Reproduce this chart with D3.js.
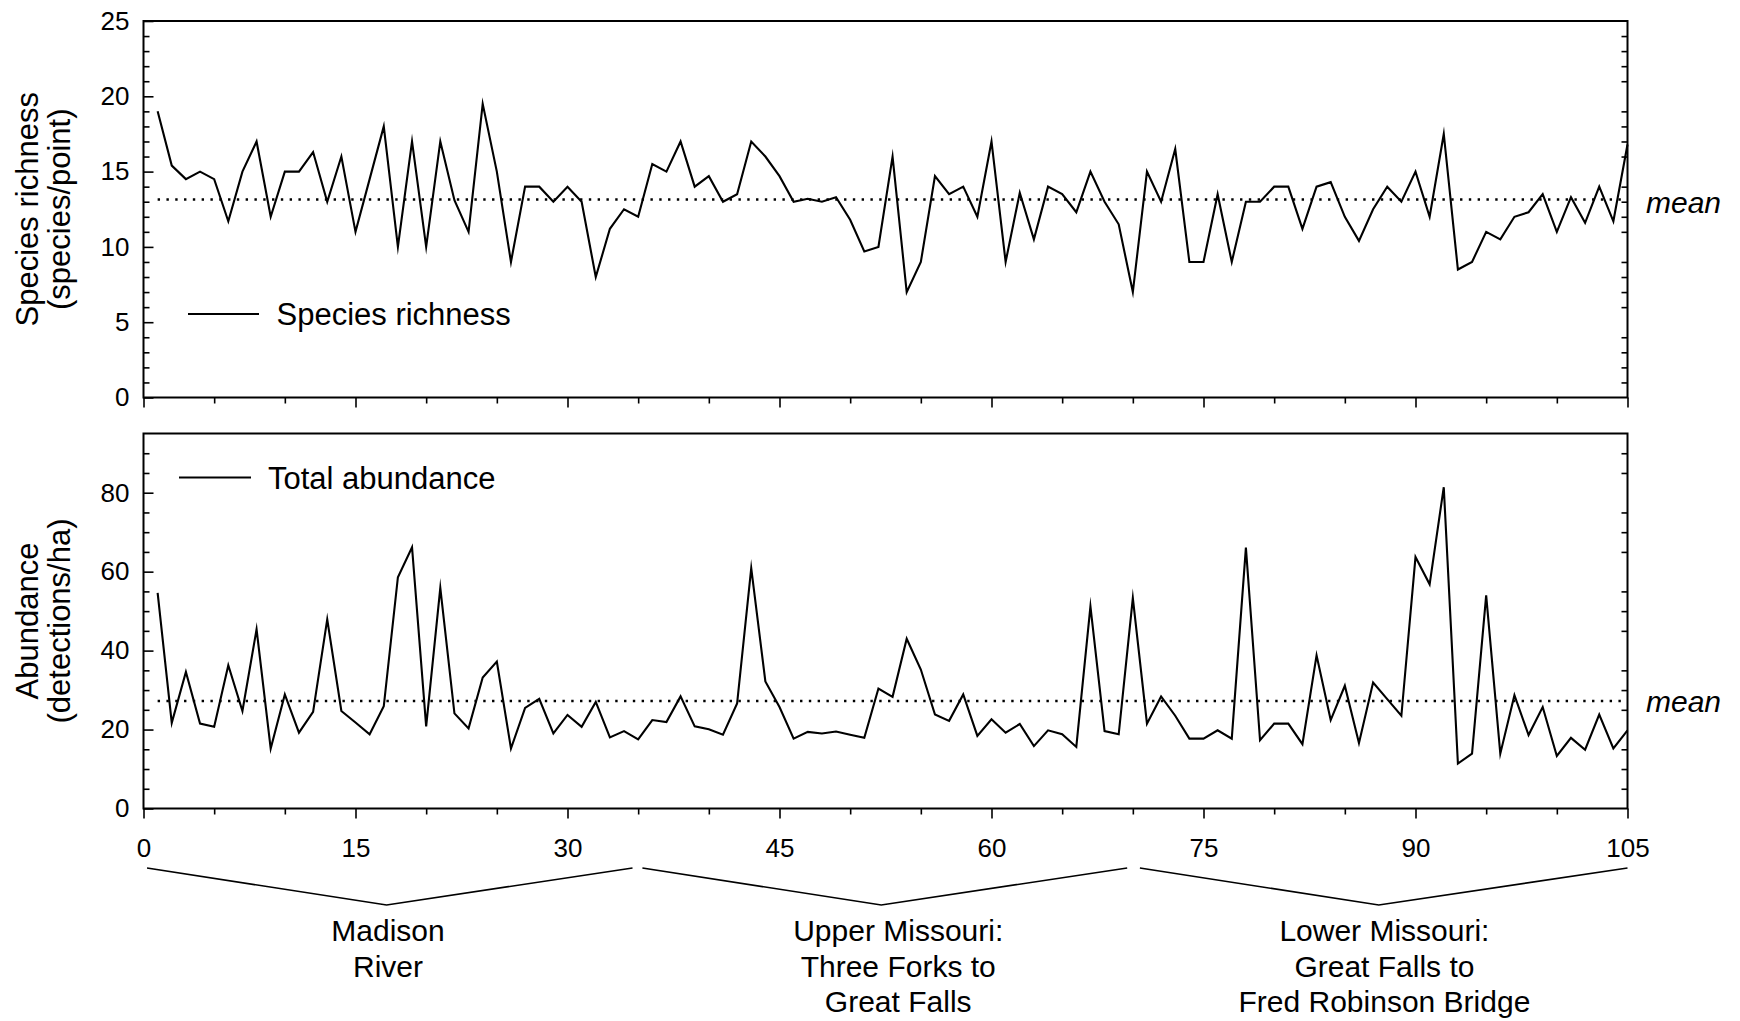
<!DOCTYPE html>
<html>
<head>
<meta charset="utf-8">
<script src="https://cdn.jsdelivr.net/npm/d3@7/dist/d3.min.js"></script>
<style>
  html, body { margin: 0; padding: 0; background: #fff; }
  svg { display: block; }
  text { font-family: "Liberation Sans", Arial, Helvetica, sans-serif; fill: #000; }
</style>
</head>
<body>
<svg id="chart" width="1740" height="1021"></svg>
<script>
// ---------------- DATA ----------------
const pointIds = d3.range(1, 106); // sampling points 1..105

const speciesRichness = [
  19.0, 15.4, 14.5, 15.0, 14.5, 11.7, 15.0, 17.0, 12.0, 15.0,
  15.0, 16.3, 13.0, 16.0, 11.0, 14.5, 18.0, 10.0, 17.0, 10.0,
  17.0, 13.1, 11.0, 19.5, 15.0, 9.0, 14.0, 14.0, 13.0, 14.0,
  13.0, 8.0, 11.2, 12.5, 12.0, 15.5, 15.0, 17.0, 14.0, 14.7,
  13.0, 13.5, 17.0, 16.0, 14.7, 13.0, 13.2, 13.0, 13.3, 11.8,
  9.7, 10.0, 16.0, 7.0, 9.0, 14.7, 13.5, 14.0, 12.0, 17.0,
  9.0, 13.6, 10.5, 14.0, 13.5, 12.3, 15.0, 13.0, 11.5, 7.0,
  15.0, 13.0, 16.5, 9.0, 9.0, 13.5, 9.0, 13.0, 13.0, 14.0,
  14.0, 11.2, 14.0, 14.3, 12.0, 10.4, 12.5, 14.0, 13.0, 15.0,
  12.0, 17.5, 8.5, 9.0, 11.0, 10.5, 12.0, 12.3, 13.5, 11.0,
  13.3, 11.6, 14.0, 11.7, 16.8
];

const totalAbundance = [
  54.6, 21.7, 34.6, 21.5, 20.7, 36.3, 24.7, 45.4, 15.2, 28.9,
  19.2, 24.5, 47.9, 24.7, 21.8, 18.8, 25.9, 58.6, 66.2, 20.8,
  55.9, 24.1, 20.3, 33.2, 37.2, 15.2, 25.5, 27.8, 19.0, 23.7,
  20.7, 27.0, 18.0, 19.6, 17.5, 22.4, 21.9, 28.4, 20.8, 20.1,
  18.7, 26.6, 60.9, 32.2, 25.7, 17.7, 19.4, 19.0, 19.5, 18.7,
  17.9, 30.4, 28.3, 43.0, 35.2, 23.8, 22.2, 28.9, 18.4, 22.6,
  19.2, 21.4, 15.8, 19.8, 18.8, 15.6, 51.2, 19.6, 18.8, 53.3,
  21.5, 28.4, 23.5, 17.7, 17.7, 19.8, 17.7, 66.1, 17.3, 21.5,
  21.5, 16.3, 38.8, 22.4, 31.1, 16.6, 31.9, 27.7, 23.5, 63.7,
  56.8, 81.4, 11.4, 13.9, 54.0, 13.9, 28.7, 18.6, 25.7, 13.3,
  17.9, 14.9, 23.8, 15.2, 19.8
];

const meanRichness = 13.15;
const meanAbundance = 27.25;

const xMajorTicks = [0, 15, 30, 45, 60, 75, 90, 105];
const richnessMajorTicks = [0, 5, 10, 15, 20, 25];
const abundanceMajorTicks = [0, 20, 40, 60, 80];

const segmentStarts = [0.25, 35.3, 70.5];
const segmentEnds = [34.6, 69.6, 105];
const segmentVertices = [17.2, 52.2, 87.4];
const segmentLabelCenters = [17.3, 53.4, 87.8];
const segmentLabels = [
  ["Madison", "River"],
  ["Upper Missouri:", "Three Forks to", "Great Falls"],
  ["Lower Missouri:", "Great Falls to", "Fred Robinson Bridge"]
];

// ---------------- LAYOUT ----------------
const svg = d3.select("#chart");
const left = 143.5, right = 1627.5;
const top1 = 21, bot1 = 397.5;
const top2 = 433.5, bot2 = 808.5;

const x = d3.scaleLinear().domain([0, 105]).range([left, right]);
const y1 = d3.scaleLinear().domain([0, 25]).range([bot1, top1]);
const y2 = d3.scaleLinear().domain([0, 95]).range([bot2, top2]);

const minorX = d3.range(0, 106, 5).filter(v => v % 15 !== 0);

function styleAxis(g, fontSize) {
  g.select(".domain").remove();
  g.selectAll("line").attr("stroke", "#000").attr("stroke-width", 1.6);
  g.attr("font-family", null).attr("font-size", null);
  g.selectAll("text").style("font-size", fontSize + "px")
    .style("font-family", '"Liberation Sans", Arial, sans-serif').attr("fill", "#000");
}

function panel(yScale, top, bot, majorY, minorY, data, meanVal, showXLabels, meanOffset) {
  svg.append("g").attr("transform", `translate(${left},0)`)
    .call(d3.axisLeft(yScale).tickValues(minorY).tickSize(-6).tickFormat(""))
    .call(g => styleAxis(g, 26));
  svg.append("g").attr("transform", `translate(${left},0)`)
    .call(d3.axisLeft(yScale).tickValues(majorY).tickSize(-10).tickPadding(14).tickFormat(d3.format("d")))
    .call(g => styleAxis(g, 26));
  svg.append("g").attr("transform", `translate(${right},0)`)
    .call(d3.axisRight(yScale).tickValues(minorY).tickSize(-6).tickFormat(""))
    .call(g => styleAxis(g, 26));
  svg.append("g").attr("transform", `translate(0,${bot})`)
    .call(d3.axisBottom(x).tickValues(minorX).tickSize(6).tickFormat(""))
    .call(g => styleAxis(g, 26));
  svg.append("g").attr("transform", `translate(0,${bot})`)
    .call(d3.axisBottom(x).tickValues(xMajorTicks).tickSize(10).tickPadding(20)
      .tickFormat(showXLabels ? d3.format("d") : ""))
    .call(g => styleAxis(g, 26));

  svg.append("rect").attr("x", left).attr("y", top)
    .attr("width", right - left).attr("height", bot - top)
    .attr("fill", "none").attr("stroke", "#000").attr("stroke-width", 2);

  svg.append("line")
    .attr("x1", x(1)).attr("x2", x(105))
    .attr("y1", yScale(meanVal)).attr("y2", yScale(meanVal))
    .attr("stroke", "#000").attr("stroke-width", 2.4)
    .attr("stroke-dasharray", "2.4,6.4");

  const line = d3.line().x((d, i) => x(pointIds[i])).y(d => yScale(d));
  svg.append("path").datum(data)
    .attr("d", line).attr("fill", "none")
    .attr("stroke", "#000").attr("stroke-width", 2.1)
    .attr("stroke-linejoin", "miter").attr("stroke-miterlimit", 10);

  svg.append("text").attr("x", 1646).attr("y", yScale(meanVal) + meanOffset)
    .style("font-size", "30px").style("font-style", "italic").text("mean");
}

panel(y1, top1, bot1, richnessMajorTicks,
  d3.range(0, 26, 1).filter(v => v % 5 !== 0),
  speciesRichness, meanRichness, false, 14);
panel(y2, top2, bot2, abundanceMajorTicks,
  d3.range(0, 91, 5).filter(v => v % 20 !== 0),
  totalAbundance, meanAbundance, true, 11);

// legends
svg.append("line").attr("x1", 188).attr("x2", 259).attr("y1", 314).attr("y2", 314)
  .attr("stroke", "#000").attr("stroke-width", 2);
svg.append("text").attr("x", 276.5).attr("y", 325).style("font-size", "31px").text("Species richness");
svg.append("line").attr("x1", 179).attr("x2", 251).attr("y1", 477.5).attr("y2", 477.5)
  .attr("stroke", "#000").attr("stroke-width", 2);
svg.append("text").attr("x", 268).attr("y", 489).style("font-size", "31px").text("Total abundance");

// y-axis titles
function yTitle(lines, cy) {
  const xs = [38, 70];
  lines.forEach((t, i) => {
    svg.append("text")
      .attr("transform", `translate(${xs[i]},${cy}) rotate(-90)`)
      .attr("text-anchor", "middle").style("font-size", "31px").text(t);
  });
}
yTitle(["Species richness", "(species/point)"], (top1 + bot1) / 2);
yTitle(["Abundance", "(detections/ha)"], (top2 + bot2) / 2);

// segment brackets and labels
const bracketTop = 868, bracketBottom = 905;
segmentStarts.forEach((s, i) => {
  const pts = [[x(s), bracketTop], [x(segmentVertices[i]), bracketBottom], [x(segmentEnds[i]), bracketTop]];
  svg.append("path").attr("d", d3.line()(pts))
    .attr("fill", "none").attr("stroke", "#000").attr("stroke-width", 1.6);
  segmentLabels[i].forEach((t, j) => {
    svg.append("text").attr("x", x(segmentLabelCenters[i])).attr("y", 941 + j * 35.5)
      .attr("text-anchor", "middle").style("font-size", "30px").text(t);
  });
});
</script>
</body>
</html>
